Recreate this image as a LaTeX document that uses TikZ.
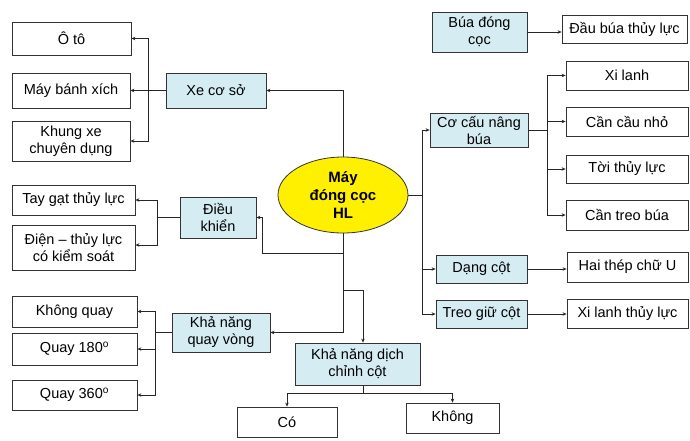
\documentclass[tikz,border=0pt]{standalone}
\usepackage{fontspec}
\setmainfont{Liberation Sans}
\usetikzlibrary{arrows.meta,shapes.geometric}
\definecolor{boxblue}{RGB}{214,236,243}
\definecolor{hlyellow}{RGB}{255,240,0}
\begin{document}
\begin{tikzpicture}[x=1pt,y=-1pt,
  box/.style={draw=black!80, line width=0.8pt, inner sep=1pt, align=center,
    font=\fontsize{14.5}{17}\selectfont},
  sub/.style={box, fill=boxblue},
  arr/.style={draw=black!85, line width=0.7pt, -{Stealth[length=4pt,width=3.5pt]}},
  ln/.style={draw=black!85, line width=0.7pt}]

\useasboundingbox (0,0) rectangle (690,440);

% center
\node[ellipse, draw=black!80, line width=0.8pt, fill=hlyellow, minimum width=130, minimum height=76,
  inner sep=0pt, align=center, font=\bfseries\fontsize{15}{18}\selectfont] (may) at (343,195)
  {Máy\\đóng cọc\\HL};

% left side
\node[box, minimum width=119, minimum height=33] (oto) at (71.5,38.5) {Ô tô};
\node[box, minimum width=118, minimum height=35] (maybx) at (71,90.5) {Máy bánh xích};
\node[box, minimum width=118, minimum height=40] (khung) at (71,141) {Khung xe\\chuyên dụng};
\node[sub, minimum width=100, minimum height=35] (xecs) at (216,90.5) {Xe cơ sở};

\node[box, minimum width=123, minimum height=30] (taygat) at (73.5,200) {Tay gạt thủy lực};
\node[box, minimum width=123, minimum height=45] (dien) at (73.5,247.5) {Điện – thủy lực\\có kiểm soát};
\node[sub, minimum width=76, minimum height=41] (dieukhien) at (218,217.5) {Điều\\khiển};

\node[box, minimum width=125, minimum height=31] (khongquay) at (74.5,311.5) {Không quay};
\node[box, minimum width=125, minimum height=32] (q180) at (74.5,349) {Quay 180\textsuperscript{o}};
\node[box, minimum width=125, minimum height=30] (q360) at (74.5,395) {Quay 360\textsuperscript{o}};
\node[sub, minimum width=98, minimum height=39] (quayvong) at (221,332.5) {Khả năng\\quay vòng};

% bottom
\node[sub, minimum width=125, minimum height=42] (dichchinh) at (357.5,364) {Khả năng dịch\\chỉnh cột};
\node[box, minimum width=100, minimum height=30] (co) at (287,422) {Có};
\node[box, minimum width=93, minimum height=30] (khong) at (452.5,418) {Không};

% right side
\node[sub, minimum width=95, minimum height=40] (buadc) at (479.5,32) {Búa đóng\\cọc};
\node[box, minimum width=125, minimum height=28] (daubua) at (624.5,29) {Đầu búa thủy lực};
\node[sub, minimum width=98, minimum height=34] (cocau) at (479,130) {Cơ cấu nâng\\búa};
\node[box, minimum width=122, minimum height=29] (xilanh) at (627,75.5) {Xi lanh};
\node[box, minimum width=122, minimum height=29] (cancau) at (627,121.5) {Cần cầu nhỏ};
\node[box, minimum width=122, minimum height=28] (toi) at (627,169) {Tời thủy lực};
\node[box, minimum width=122, minimum height=30] (cantreo) at (627,215) {Cần treo búa};
\node[sub, minimum width=91, minimum height=28] (dangcot) at (481.5,269) {Dạng cột};
\node[sub, minimum width=91, minimum height=28] (treogiu) at (481.5,314) {Treo giữ cột};
\node[box, minimum width=121, minimum height=30] (haithep) at (627.5,267) {Hai thép chữ U};
\node[box, minimum width=121, minimum height=29] (xilanhtl) at (627.5,313.5) {Xi lanh thủy lực};

% bus points
\coordinate (busA) at (148,90.5);
\coordinate (busB) at (157,217.5);
\coordinate (busE) at (155,332.5);
\coordinate (busR) at (422,195);
\coordinate (busC) at (547,130);
\coordinate (busD) at (363,393);
\coordinate (dkturn) at (262,253);
\coordinate (dcturn) at (343,290);

% connectors
\draw[arr] (may.north) |- (xecs.east);
\foreach \n in {oto,maybx,khung}
  \draw[arr] (xecs.west) -- (busA) |- (\n.east);

\draw[arr] (may.south) |- (dkturn) |- (dieukhien.east);
\draw[arr] (busB) |- (taygat.east);
\draw[arr] (dieukhien.west) -- (busB) |- ([yshift=2.5pt]dien.east);

\draw[arr] (may.south) |- (quayvong.east);
\foreach \n in {khongquay,q180,q360}
  \draw[arr] (quayvong.west) -- (busE) |- (\n.east);

\draw[arr] (dcturn) -| ([xshift=5.5pt]dichchinh.north);
\draw[ln] ([xshift=5.5pt]dichchinh.south) -- (busD);
\foreach \n in {co,khong}
  \draw[arr] (busD) -| (\n.north);

\foreach \n in {cocau,dangcot,treogiu}
  \draw[arr] (may.east) -- (busR) |- (\n.west);
\foreach \n in {xilanh,cancau,toi,cantreo}
  \draw[arr] (cocau.east) -- (busC) |- (\n.west);

\draw[arr] (buadc.east) -- (buadc.east -| daubua.west);
\draw[arr] (dangcot.east) -- (dangcot.east -| haithep.west);
\draw[arr] (treogiu.east) -- (treogiu.east -| xilanhtl.west);

\end{tikzpicture}
\end{document}
